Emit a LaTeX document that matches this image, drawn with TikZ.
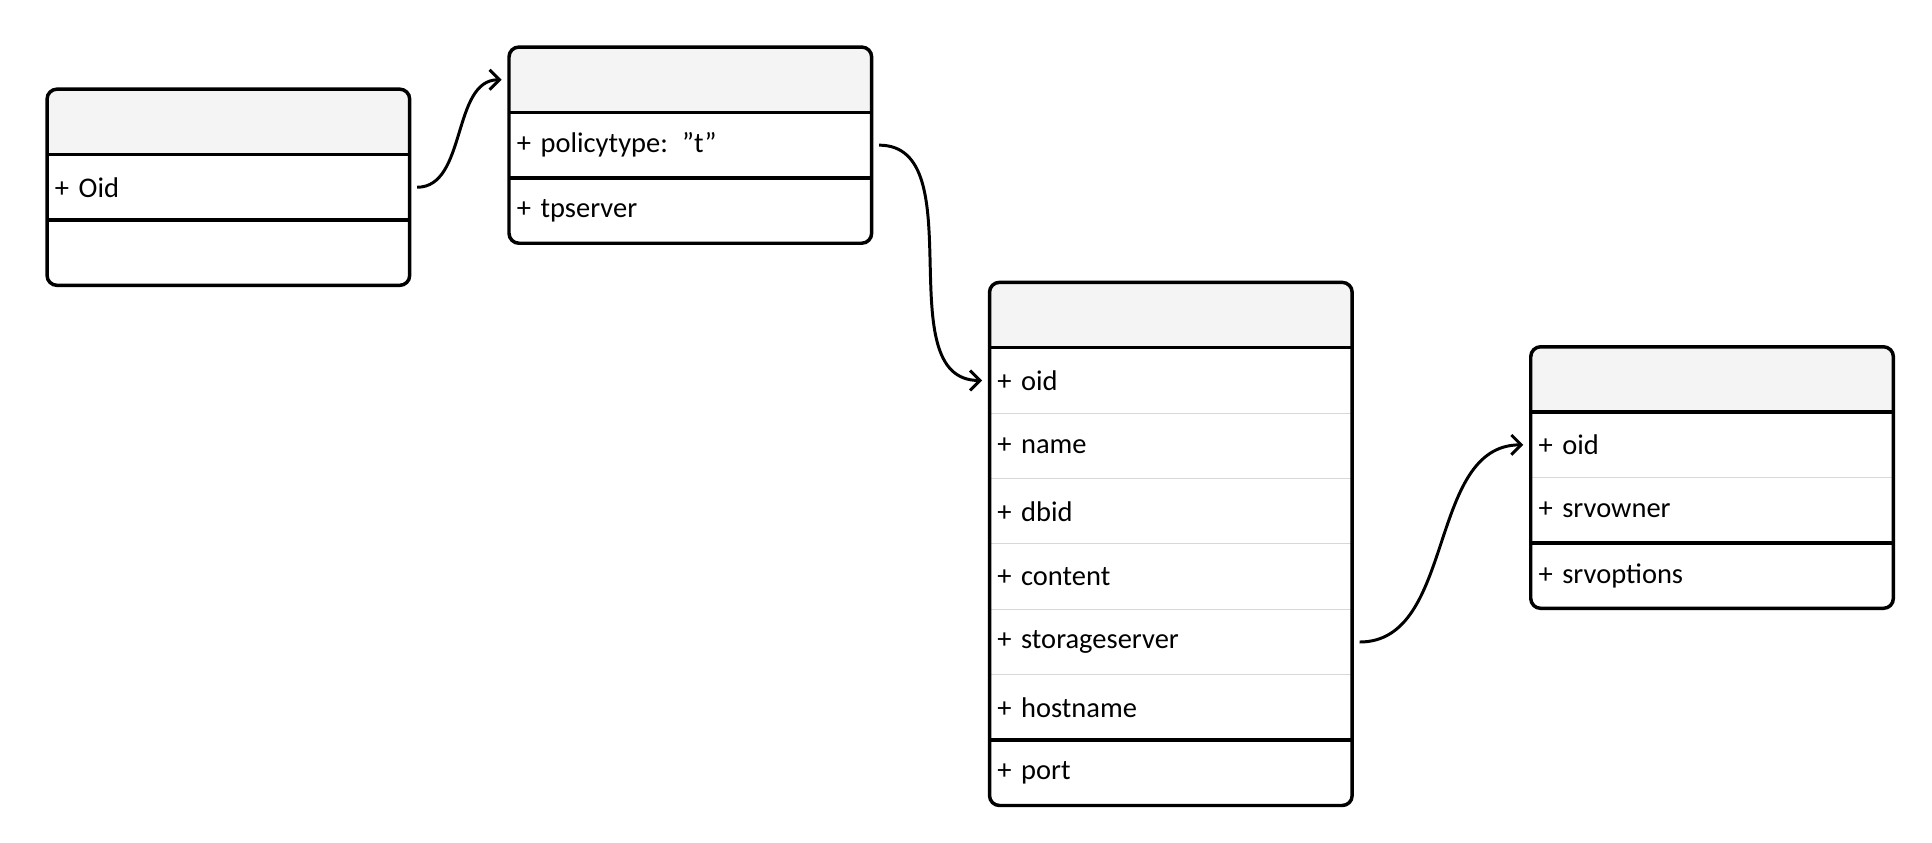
\documentclass[tikz,border=0pt]{standalone}
\usepackage{fontspec}
\setmainfont{Carlito}
\usetikzlibrary{positioning,arrows.meta}
\definecolor{headgray}{HTML}{F4F4F4}
\definecolor{rulegray}{HTML}{D8D8D8}
\begin{document}
\begin{tikzpicture}[
  x = 0.5pt, y = -0.5pt,
  every node/.style = {font = \fontsize{11.5}{13}\selectfont},
  row/.style = {minimum width = 146pt, minimum height = 26pt, text width = 140pt,
                inner xsep = 3pt, inner ysep = 0pt, align = left, anchor = north west},
  head/.style = {row, align = center, font = \bfseries\fontsize{11.5}{13}\selectfont},
  frame/.style = {line width = 1.4pt, rounded corners = 4pt},
  sep/.style = {line width = 1.4pt},
  thinsep/.style = {line width = 0.4pt, rulegray},
  link/.style = {line width = 1.2pt, -{Straight Barb[length = 4pt, width = 8pt]}},
  ]
  \useasboundingbox (0,0) rectangle (1560,680);

  % pg_class
  \node[head] (pg) at (38,72) {pg\_class};
  \node[row, below = 0pt of pg] (pgOid) {+ Oid};
  \node[row, below = 0pt of pgOid] (pgEmpty) {};
  % gp_distribution_policy
  \node[head] (gdp) at (411,38) {gp\_distribution\_policy};
  \node[row, below = 0pt of gdp] (gdpType) {+ policytype: "t"};
  \node[row, below = 0pt of gdpType] (gdpSrv) {+ tpserver};
  % gp_tpserver
  \node[head] (tps) at (799,228) {gp\_tpserver};
  \node[row, below = 0pt of tps] (tpsOid) {+ oid};
  \node[row, below = 0pt of tpsOid] (tpsName) {+ name};
  \node[row, below = 0pt of tpsName] (tpsDbid) {+ dbid};
  \node[row, below = 0pt of tpsDbid] (tpsContent) {+ content};
  \node[row, below = 0pt of tpsContent] (tpsStorage) {+ storageserver};
  \node[row, below = 0pt of tpsStorage] (tpsHost) {+ hostname};
  \node[row, below = 0pt of tpsHost] (tpsPort) {+ port};
  % gp_storage_server
  \node[head] (gss) at (1236,280) {gp\_storage\_server};
  \node[row, below = 0pt of gss] (gssOid) {+ oid};
  \node[row, below = 0pt of gssOid] (gssOwner) {+ srvowner};
  \node[row, below = 0pt of gssOwner] (gssOpt) {+ srvoptions};

  % header fills
  \foreach \h in {pg, gdp, tps, gss}
    \fill[headgray] (\h.south west) [rounded corners = 4pt] -- (\h.north west)
      -- (\h.north east) [sharp corners] -- (\h.south east) -- cycle;

  % separators
  \draw[sep] (pg.south west) -- (pg.south east);
  \draw[sep] (pgOid.south west) -- (pgOid.south east);
  \draw[sep] (gdp.south west) -- (gdp.south east);
  \draw[sep] (gdpType.south west) -- (gdpType.south east);
  \draw[sep] (tps.south west) -- (tps.south east);
  \foreach \r in {tpsOid, tpsName, tpsDbid, tpsContent, tpsStorage}
    \draw[thinsep] (\r.south west) -- (\r.south east);
  \draw[sep] (tpsHost.south west) -- (tpsHost.south east);
  \draw[sep] (gss.south west) -- (gss.south east);
  \draw[thinsep] (gssOid.south west) -- (gssOid.south east);
  \draw[sep] (gssOwner.south west) -- (gssOwner.south east);

  % frames
  \draw[frame] (pg.north west) rectangle (pgEmpty.south east);
  \draw[frame] (gdp.north west) rectangle (gdpSrv.south east);
  \draw[frame] (tps.north west) rectangle (tpsPort.south east);
  \draw[frame] (gss.north west) rectangle (gssOpt.south east);

  % links
  \draw[link, shorten <= 3pt, shorten >= 3pt] (pgOid.east) to[out = 0, in = 180] (gdp.west);
  \draw[link, shorten <= 3pt, shorten >= 3pt] (gdpType.east) to[out = 0, in = 180] (tpsOid.west);
  \draw[link, shorten <= 3pt, shorten >= 3pt] (tpsStorage.east) to[out = 0, in = 180] (gssOid.west);
\end{tikzpicture}
\end{document}
